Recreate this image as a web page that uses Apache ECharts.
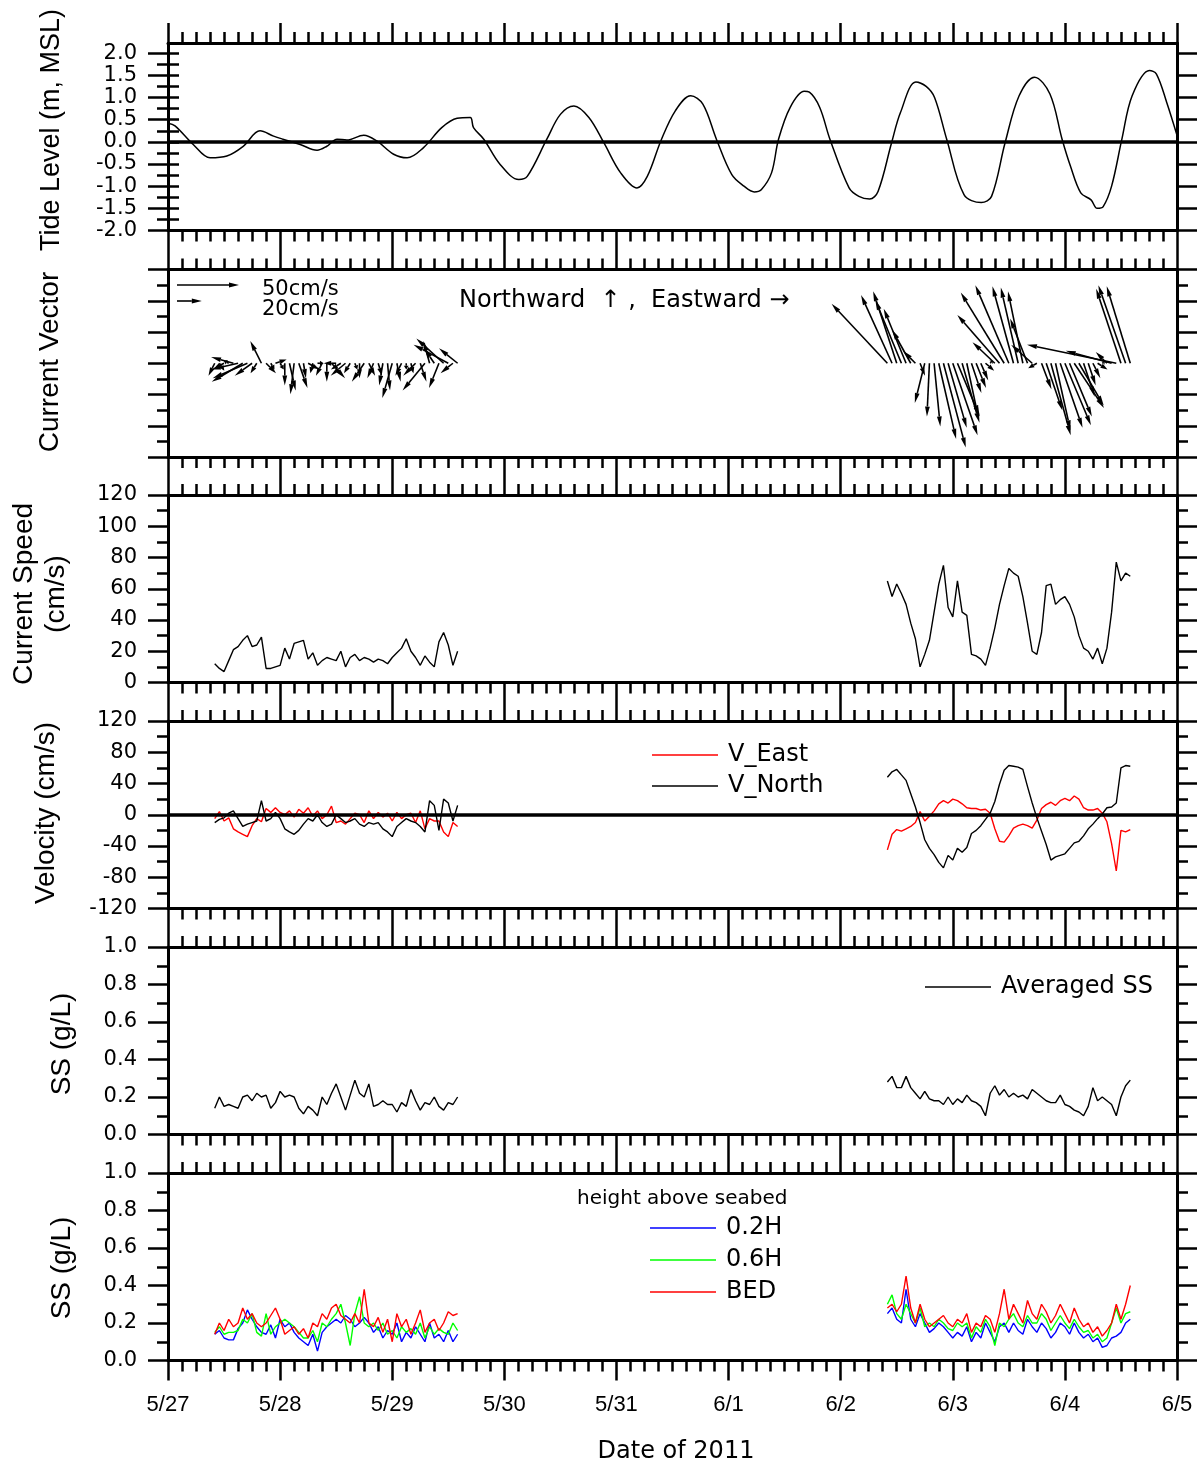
<!DOCTYPE html>
<html><head><meta charset="utf-8">
<script src="https://cdn.jsdelivr.net/npm/echarts@6/dist/echarts.min.js"></script>
<style>html,body{margin:0;padding:0;background:#fff}#c{width:1200px;height:1465px}</style>
</head><body><div id="c"></div>
<script>
// ---------------- DATA ----------------
const dateLabels = ['5/27','5/28','5/29','5/30','5/31','6/1','6/2','6/3','6/4','6/5'];
// tide: hours since 5/27 00:00
const tideHours = [0,1.5,5.4,9.0,12.6,16.1,19.7,22.6,24.6,28.3,31.9,34.0,36.2,38.3,41.9,44.7,48.3,51.2,54.7,58.6,61.9,64.7,65.4,67.6,71.1,75.1,76.9,81.1,84.0,86.9,90.1,93.3,96.9,100.4,102.6,105.5,108.6,111.9,114.5,117.4,120.7,123.3,125.5,127.0,129.2,130.7,133.2,136.2,137.3,139.5,141.7,145.8,147.9,150.2,152.0,154.9,156.8,160.1,162.3,164.1,166.7,170.4,174.1,176.3,179.2,182.2,185.5,188.8,191.4,193.2,195.4,197.6,198.9,200.2,202.0,204.2,206.4,210.1,211.6,213.8,216];
const tideLevel = [0.42,0.36,-0.06,-0.36,-0.32,-0.10,0.25,0.13,0.06,-0.06,-0.19,-0.10,0.06,0.04,0.15,0.02,-0.28,-0.36,-0.13,0.32,0.53,0.55,0.32,0.06,-0.51,-0.85,-0.78,0.06,0.62,0.81,0.55,-0.02,-0.70,-1.04,-0.78,0.02,0.70,1.04,0.85,0.06,-0.74,-1.00,-1.13,-1.08,-0.70,0.06,0.78,1.14,1.12,0.78,0.06,-1.04,-1.23,-1.29,-1.12,-0.02,0.66,1.35,1.25,1.00,0.06,-1.19,-1.37,-1.23,-0.02,1.04,1.46,1.08,0.06,-0.55,-1.15,-1.31,-1.50,-1.46,-1.00,0.06,1.04,1.61,1.53,0.89,0.15];
// hourly observations, two campaigns (start hour since 5/27 00:00)
const start1 = 10, start2 = 154;
const speed1 = [12,9,7,14,21,23,27,30,23,24,29,9,9,10,11,22,15,25,26,27,15,19,11,14,16,15,14,20,10,16,18,14,16,15,13,15,14,12,16,19,22,28,20,16,11,17,13,10,26,32,24,11,20];
const speed2 = [65,55,63,57,50,38,28,10,18,27,45,63,75,48,42,65,45,43,18,17,15,11,22,35,50,62,73,70,68,55,38,20,18,32,62,63,50,53,55,50,42,30,22,20,15,22,12,22,45,77,65,70,68];
const vEast1 = [-5,4,-8,-4,-18,-22,-25,-28,-14,-5,-9,8,3,9,3,0,5,-3,7,2,9,-2,5,-5,0,11,-10,-8,-12,-5,2,0,-10,5,-5,3,-3,2,-8,3,-5,0,2,-10,5,-18,-5,-8,-8,-22,-28,-10,-15];
const vNorth1 = [-10,-6,-4,2,5,-5,-15,-12,-10,-8,18,-8,-5,3,-5,-18,-22,-25,-20,-12,-5,-8,0,-10,-15,-12,0,-5,-10,-8,-5,-12,-15,-10,-12,-10,-18,-22,-28,-15,-10,-5,-8,-10,-15,-22,18,12,-20,20,15,-8,12];
const vEast2 = [-45,-25,-19,-21,-18,-15,-10,4,-8,-2,5,14,18,15,20,18,14,9,8,8,6,7,2,-18,-34,-35,-27,-17,-14,-12,-14,-17,-7,8,13,16,12,18,21,18,24,20,9,6,6,8,2,-9,-37,-72,-20,-22,-19];
const vNorth2 = [48,55,58,51,44,27,10,-10,-32,-43,-51,-61,-68,-52,-58,-43,-48,-42,-24,-20,-14,-6,2,17,39,57,63,62,61,58,36,15,-4,-21,-38,-58,-54,-52,-50,-43,-36,-34,-27,-18,-12,-5,1,9,10,15,60,63,62];
const ssAvg1 = [0.14,0.2,0.15,0.16,0.15,0.14,0.2,0.21,0.18,0.22,0.2,0.21,0.14,0.17,0.23,0.2,0.21,0.2,0.14,0.11,0.15,0.13,0.1,0.2,0.16,0.22,0.27,0.2,0.13,0.21,0.29,0.22,0.2,0.27,0.15,0.16,0.18,0.16,0.16,0.12,0.17,0.15,0.24,0.18,0.13,0.17,0.16,0.2,0.15,0.13,0.17,0.16,0.2];
const ssAvg2 = [0.28,0.31,0.25,0.25,0.31,0.25,0.22,0.19,0.23,0.19,0.18,0.18,0.16,0.2,0.16,0.19,0.17,0.21,0.18,0.17,0.15,0.1,0.22,0.26,0.21,0.24,0.2,0.22,0.2,0.21,0.19,0.24,0.22,0.2,0.18,0.17,0.17,0.21,0.16,0.15,0.13,0.12,0.1,0.15,0.25,0.18,0.2,0.18,0.16,0.1,0.2,0.26,0.29];
const ss02H1 = [0.14,0.16,0.12,0.11,0.11,0.17,0.2,0.27,0.22,0.18,0.15,0.14,0.19,0.12,0.22,0.18,0.2,0.15,0.12,0.1,0.08,0.14,0.05,0.15,0.18,0.2,0.22,0.2,0.24,0.22,0.18,0.2,0.23,0.2,0.15,0.18,0.12,0.16,0.14,0.2,0.1,0.15,0.12,0.18,0.14,0.1,0.2,0.12,0.14,0.1,0.16,0.1,0.14];
const ss06H1 = [0.15,0.18,0.14,0.15,0.15,0.16,0.22,0.2,0.25,0.15,0.13,0.25,0.14,0.18,0.2,0.22,0.2,0.18,0.15,0.12,0.12,0.16,0.1,0.2,0.18,0.22,0.25,0.3,0.2,0.08,0.25,0.34,0.2,0.18,0.2,0.16,0.2,0.14,0.16,0.12,0.18,0.15,0.17,0.14,0.2,0.12,0.18,0.14,0.17,0.15,0.14,0.2,0.16];
const ssBed1 = [0.14,0.2,0.16,0.22,0.18,0.2,0.28,0.22,0.25,0.2,0.18,0.2,0.24,0.28,0.22,0.14,0.16,0.18,0.14,0.17,0.12,0.2,0.18,0.25,0.22,0.28,0.3,0.24,0.22,0.2,0.25,0.2,0.38,0.2,0.18,0.23,0.15,0.22,0.1,0.25,0.18,0.22,0.14,0.2,0.27,0.15,0.2,0.22,0.16,0.2,0.26,0.24,0.25];
const ss02H2 = [0.25,0.28,0.22,0.2,0.38,0.22,0.18,0.25,0.2,0.15,0.17,0.2,0.18,0.15,0.12,0.15,0.13,0.18,0.1,0.15,0.12,0.2,0.15,0.1,0.18,0.2,0.15,0.2,0.16,0.14,0.22,0.18,0.15,0.2,0.17,0.12,0.15,0.2,0.18,0.14,0.2,0.15,0.12,0.14,0.1,0.12,0.07,0.08,0.12,0.13,0.15,0.2,0.22];
const ss06H2 = [0.3,0.35,0.25,0.22,0.3,0.25,0.2,0.28,0.18,0.2,0.18,0.22,0.2,0.17,0.16,0.2,0.18,0.2,0.12,0.18,0.15,0.22,0.18,0.08,0.2,0.18,0.22,0.25,0.2,0.18,0.24,0.2,0.2,0.25,0.22,0.16,0.2,0.24,0.2,0.17,0.22,0.18,0.15,0.16,0.12,0.14,0.1,0.12,0.2,0.28,0.2,0.25,0.26];
const ssBed2 = [0.28,0.3,0.26,0.3,0.45,0.28,0.2,0.3,0.22,0.18,0.2,0.22,0.24,0.2,0.18,0.22,0.2,0.25,0.15,0.2,0.18,0.24,0.22,0.15,0.25,0.38,0.22,0.3,0.25,0.2,0.32,0.25,0.22,0.3,0.26,0.2,0.24,0.3,0.25,0.2,0.28,0.22,0.18,0.2,0.15,0.18,0.13,0.16,0.2,0.3,0.22,0.3,0.4];
const tideMajor = [-2,-1.5,-1,-0.5,0,0.5,1,1.5,2];
const tideMinor = [-2,-1.75,-1.5,-1.25,-1,-0.75,-0.5,-0.25,0,0.25,0.5,0.75,1,1.25,1.5,1.75,2];

// ---------------- LAYOUT / STYLE ----------------
const NUM_FONT = "'Liberation Sans', Arial, sans-serif";
const TICK_FONT = "'DejaVu Sans', sans-serif";
const TXT_FONT = "'DejaVu Sans', sans-serif";
const tops = [43, 269.5, 495, 721, 947, 1173];
const H = 187.5;
const VEC_K = 1.24; // px per cm/s for vectors
const black = '#000';

function pairs(start, arr) { return arr.map((v, i) => [start + i, v]); }

const grids = tops.map(t => ({ left: 168, right: 23, top: t, height: H, show: false }));

const xAxes = [];
tops.forEach((t, i) => {
  ['bottom', 'top'].forEach(pos => {
    xAxes.push({
      gridIndex: i, type: 'value', min: 0, max: 216, interval: 24, position: pos,
      axisLine: { show: true, onZero: false, lineStyle: { color: black, width: 3 } },
      axisTick: { show: true, inside: false, length: 20, lineStyle: { color: black, width: 2.5 } },
      minorTick: { show: true, splitNumber: 8, length: 11, lineStyle: { color: black, width: 2.5 } },
      splitLine: { show: false }, minorSplitLine: { show: false },
      axisLabel: {
        show: (i === 5 && pos === 'bottom'), margin: 33, color: black,
        fontFamily: NUM_FONT, fontSize: 22,
        formatter: v => dateLabels[Math.round(v / 24)]
      }
    });
  });
});

const yAxes = [];
const yIndex = {};
function addY(key, cfg) { yIndex[key] = yAxes.length; yAxes.push(cfg); }
function lbl(pos, size, fmt) {
  const o = { show: pos === 'left', margin: 31, color: black, fontFamily: TICK_FONT, fontSize: size };
  if (fmt) o.formatter = fmt;
  return o;
}
function yBase(gi, pos, extra) {
  return Object.assign({
    gridIndex: gi, type: 'value', position: pos,
    axisLine: { show: true, onZero: false, lineStyle: { color: black, width: 3 } },
    axisTick: { show: true, inside: false, length: 20, lineStyle: { color: black, width: 2.5 } },
    minorTick: { show: true, splitNumber: 2, length: 11, lineStyle: { color: black, width: 2.5 } },
    splitLine: { show: false }, minorSplitLine: { show: false },
    axisLabel: lbl(pos, 21)
  }, extra);
}
['left', 'right'].forEach(pos => {
  const tl = lbl(pos, 21, v => v.toFixed(1)); tl.customValues = tideMajor;
  addY('tide_' + pos, yBase(0, pos, {
    min: -2, max: 2.23,
    axisTick: { show: true, inside: false, length: 20, customValues: tideMajor, lineStyle: { color: black, width: 2.5 } },
    minorTick: { show: false },
    axisLabel: tl
  }));
  addY('tideMinor_' + pos, yBase(0, pos, {
    min: -2, max: 2.23,
    axisLine: { show: false },
    axisTick: { show: true, inside: false, length: 11, customValues: tideMinor, lineStyle: { color: black, width: 2.5 } },
    minorTick: { show: false }, axisLabel: { show: false }
  }));
});
['left', 'right'].forEach(pos => {
  addY('vec_' + pos, yBase(1, pos, { min: -3, max: 3, interval: 1, axisLabel: { show: false } }));
  addY('spd_' + pos, yBase(2, pos, { min: 0, max: 120, interval: 20 }));
  addY('vel_' + pos, yBase(3, pos, { min: -120, max: 120, interval: 40 }));
  addY('ss1_' + pos, yBase(4, pos, { min: 0, max: 1, interval: 0.2, axisLabel: lbl(pos, 21, v => v.toFixed(1)) }));
  addY('ss2_' + pos, yBase(5, pos, { min: 0, max: 1, interval: 0.2, axisLabel: lbl(pos, 21, v => v.toFixed(1)) }));
});

function lineSeries(name, gi, yKey, data, color, extra) {
  return Object.assign({
    name, type: 'line', xAxisIndex: gi * 2, yAxisIndex: yIndex[yKey], data,
    showSymbol: false, symbol: 'none', lineStyle: { color, width: 1.4 }, itemStyle: { color },
    animation: false, silent: true
  }, extra || {});
}
const zeroLine = { silent: true, symbol: 'none', label: { show: false }, lineStyle: { color: black, width: 3.5, type: 'solid' }, data: [{ yAxis: 0 }] };

function arrowShape(x0, y0, x1, y1) {
  const dx = x1 - x0, dy = y1 - y0, L = Math.hypot(dx, dy);
  if (L < 0.5) return [];
  const ux = dx / L, uy = dy / L;
  const hl = Math.min(10, L * 0.6), hw = 2.4;
  const bx = x1 - ux * hl, by = y1 - uy * hl;
  return [
    { type: 'line', shape: { x1: x0, y1: y0, x2: bx, y2: by }, style: { stroke: black, lineWidth: 1.6 } },
    { type: 'polygon', shape: { points: [[x1, y1], [bx - uy * hw, by + ux * hw], [bx + uy * hw, by - ux * hw]] }, style: { fill: black } }
  ];
}
function vecData(start, e, n) { return e.map((v, i) => [start + i, v, n[i]]); }
const vecSeries = {
  type: 'custom', name: 'vectors', xAxisIndex: 2, yAxisIndex: yIndex['vec_left'],
  data: vecData(start1, vEast1, vNorth1).concat(vecData(start2, vEast2, vNorth2)),
  clip: false, animation: false, silent: true,
  renderItem: (params, api) => {
    const p = api.coord([api.value(0), 0]);
    const e = api.value(1), n = api.value(2);
    return { type: 'group', children: arrowShape(p[0], p[1], p[0] + e * VEC_K, p[1] - n * VEC_K) };
  }
};

const series = [
  lineSeries('tide', 0, 'tide_left', tideHours.map((h, i) => [h, tideLevel[i]]), black, { smooth: 0.35, lineStyle: { color: black, width: 1.5 }, markLine: zeroLine }),
  vecSeries,
  lineSeries('speed', 2, 'spd_left', pairs(start1, speed1), black),
  lineSeries('speed', 2, 'spd_left', pairs(start2, speed2), black),
  lineSeries('V_East', 3, 'vel_left', pairs(start1, vEast1), '#ff0000', { markLine: zeroLine }),
  lineSeries('V_East', 3, 'vel_left', pairs(start2, vEast2), '#ff0000'),
  lineSeries('V_North', 3, 'vel_left', pairs(start1, vNorth1), black),
  lineSeries('V_North', 3, 'vel_left', pairs(start2, vNorth2), black),
  lineSeries('Averaged SS', 4, 'ss1_left', pairs(start1, ssAvg1), black),
  lineSeries('Averaged SS', 4, 'ss1_left', pairs(start2, ssAvg2), black),
  lineSeries('0.2H', 5, 'ss2_left', pairs(start1, ss02H1), '#0000ff'),
  lineSeries('0.2H', 5, 'ss2_left', pairs(start2, ss02H2), '#0000ff'),
  lineSeries('0.6H', 5, 'ss2_left', pairs(start1, ss06H1), '#00ff00'),
  lineSeries('0.6H', 5, 'ss2_left', pairs(start2, ss06H2), '#00ff00'),
  lineSeries('BED', 5, 'ss2_left', pairs(start1, ssBed1), '#ff0000'),
  lineSeries('BED', 5, 'ss2_left', pairs(start2, ssBed2), '#ff0000')
];

function legendCfg(names, left, top, gap) {
  return {
    data: names, left, top, orient: 'vertical', itemWidth: 66, itemHeight: 1.6, itemGap: gap,
    icon: 'rect', selectedMode: false, padding: 0,
    textStyle: { fontFamily: TXT_FONT, fontSize: 24, lineHeight: 24, color: black, padding: [0, 0, 0, 5] }
  };
}

function vText(text, x, y, size) {
  return { type: 'text', x, y, rotation: Math.PI / 2, silent: true,
    style: { text, fontFamily: NUM_FONT, fontSize: size || 28, fill: black, align: 'center', verticalAlign: 'middle' } };
}
function hText(text, x, y, size, font, align) {
  return { type: 'text', x, y, silent: true,
    style: { text, fontFamily: font || TXT_FONT, fontSize: size, fill: black, align: align || 'left', verticalAlign: 'middle' } };
}
function refArrow(x0, y0, speed) {
  return { type: 'group', silent: true, children: arrowShape(x0, y0, x0 + speed * VEC_K, y0) };
}

const option = {
  backgroundColor: '#fff',
  animation: false,
  grid: grids,
  xAxis: xAxes,
  yAxis: yAxes,
  legend: [
    legendCfg(['V_East', 'V_North'], 652, 743, 7),
    legendCfg(['Averaged SS'], 925, 975, 8),
    legendCfg(['0.2H', '0.6H', 'BED'], 650, 1216, 8)
  ],
  series,
  graphic: [
    vText('Tide Level (m, MSL)', 52, 130, 27),
    vText('Current Vector', 50, 362),
    vText('Current Speed', 24, 594),
    vText('(cm/s)', 56, 594),
    vText('Velocity (cm/s)', 46, 813),
    vText('SS (g/L)', 62, 1044),
    vText('SS (g/L)', 62, 1268),
    hText('Date of 2011', 676, 1452, 24, TXT_FONT, 'center'),
    hText('Northward  ↑ ,  Eastward →', 459, 301, 24),
    hText('50cm/s', 262, 290, 21),
    hText('20cm/s', 262, 310, 21),
    hText('height above seabed', 577, 1199, 20),
    refArrow(177, 285, 50),
    refArrow(177, 301, 20)
  ]
};

const chart = echarts.init(document.getElementById('c'), null, { renderer: 'canvas' });
chart.setOption(option);
</script>
</body></html>
